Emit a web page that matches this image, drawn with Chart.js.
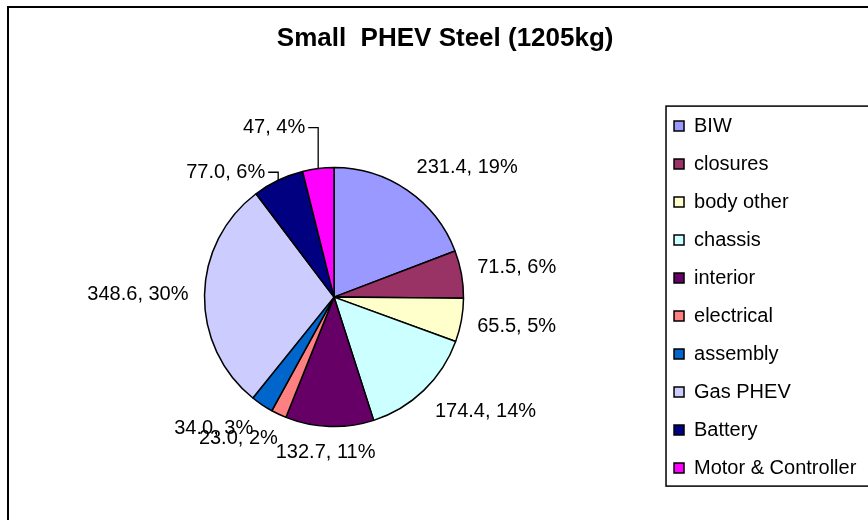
<!DOCTYPE html>
<html>
<head>
<meta charset="utf-8">
<script src="https://cdn.jsdelivr.net/npm/chart.js@4/dist/chart.umd.min.js"></script>
<style>
  html, body { margin: 0; padding: 0; background: #fff; overflow: hidden; }
  #wrap { width: 880px; height: 520px; }
</style>
</head>
<body>
<div id="wrap"><canvas id="pieChart"></canvas></div>
<script>
// Data
const categories = ['BIW', 'closures', 'body other', 'chassis', 'interior', 'electrical', 'assembly', 'Gas PHEV', 'Battery', 'Motor & Controller'];
const weights = [231.4, 71.5, 65.5, 174.4, 132.7, 23.0, 34.0, 348.6, 77.0, 47];
const decimals = [1, 1, 1, 1, 1, 1, 1, 1, 1, 0];
const percents = [19, 6, 5, 14, 11, 2, 3, 30, 6, 4];

const sliceColors = ['#9999FF', '#993366', '#FFFFCC', '#CCFFFF', '#660066', '#FF8080', '#0066CC', '#CCCCFF', '#000080', '#FF00FF'];

Chart.defaults.font.family = '"Liberation Sans", Arial, sans-serif';
Chart.defaults.color = '#000';

const clamp = v => Math.max(-1, Math.min(1, v));

// Outside labels "value, pct%" (Excel style), with leader lines for moved ones
const sliceLabels = {
    id: 'sliceLabels',
    afterDatasetsDraw(chart, args, opts) {
        const ctx = chart.ctx;
        const meta = chart.getDatasetMeta(0);
        ctx.save();
        ctx.font = '20px "Liberation Sans", Arial, sans-serif';
        ctx.fillStyle = '#000';
        ctx.strokeStyle = '#000';
        ctx.lineWidth = 1.3;
        ctx.textBaseline = 'middle';
        meta.data.forEach((arc, i) => {
            const p = arc.getProps(['x', 'y', 'startAngle', 'endAngle', 'outerRadius'], true);
            const mid = (p.startAngle + p.endAngle) / 2;
            const dx = Math.cos(mid), dy = Math.sin(mid);
            const text = weights[i].toFixed(decimals[i]) + ', ' + percents[i] + '%';
            const w = ctx.measureText(text).width;
            const rise = opts.leaders[i];
            if (rise) {
                const ex = p.x + dx * p.outerRadius, ey = p.y + dy * p.outerRadius;
                const ky = ey - rise;
                ctx.beginPath();
                ctx.moveTo(ex, ey);
                ctx.lineTo(ex, ky);
                ctx.lineTo(ex - 10, ky);
                ctx.stroke();
                ctx.textAlign = 'right';
                ctx.fillText(text, ex - 13, ky);
            } else {
                const r = p.outerRadius + opts.gap;
                ctx.textAlign = 'center';
                ctx.fillText(text,
                    p.x + dx * r + clamp(2 * dx) * w / 2,
                    p.y + dy * r + clamp(2 * dy) * 10);
            }
        });
        ctx.restore();
    }
};

// Chart frame + legend frame
const frames = {
    id: 'frames',
    afterLayout(chart) {
        chart.titleBlock.left += 6;
        chart.titleBlock.right += 6;
    },
    afterDraw(chart) {
        const ctx = chart.ctx;
        ctx.save();
        ctx.strokeStyle = '#000';
        ctx.lineWidth = 2;
        ctx.strokeRect(8, 7, 1000, 1000);
        const boxes = chart.legend.legendHitBoxes;
        const first = boxes[0], last = boxes[boxes.length - 1];
        ctx.lineWidth = 1.5;
        ctx.strokeRect(first.left - 8, first.top - 10, 400, last.top + last.height + 18 - first.top);
        ctx.restore();
    }
};

const ctx = document.getElementById('pieChart').getContext('2d');
new Chart(ctx, {
    type: 'pie',
    data: {
        labels: categories,
        datasets: [{
            data: weights,
            backgroundColor: sliceColors,
            borderColor: '#000',
            borderWidth: 1.5,
            radius: 129.5
        }]
    },
    options: {
        responsive: true,
        maintainAspectRatio: false,
        animation: false,
        layout: { padding: { left: 12, right: 13.7, top: 0, bottom: 0 } },
        plugins: {
            title: {
                display: true,
                text: 'Small  PHEV Steel (1205kg)',
                font: { size: 26, weight: 'bold' },
                color: '#000',
                padding: { top: 23, bottom: 20 }
            },
            legend: {
                position: 'right',
                fullSize: false,
                labels: {
                    font: { size: 20 },
                    color: '#000',
                    boxWidth: 10,
                    boxHeight: 10,
                    padding: 18
                }
            },
            tooltip: { enabled: false },
            sliceLabels: { gap: 16, leaders: { 8: 8, 9: 41 } }
        }
    },
    plugins: [sliceLabels, frames]
});
</script>
</body>
</html>
